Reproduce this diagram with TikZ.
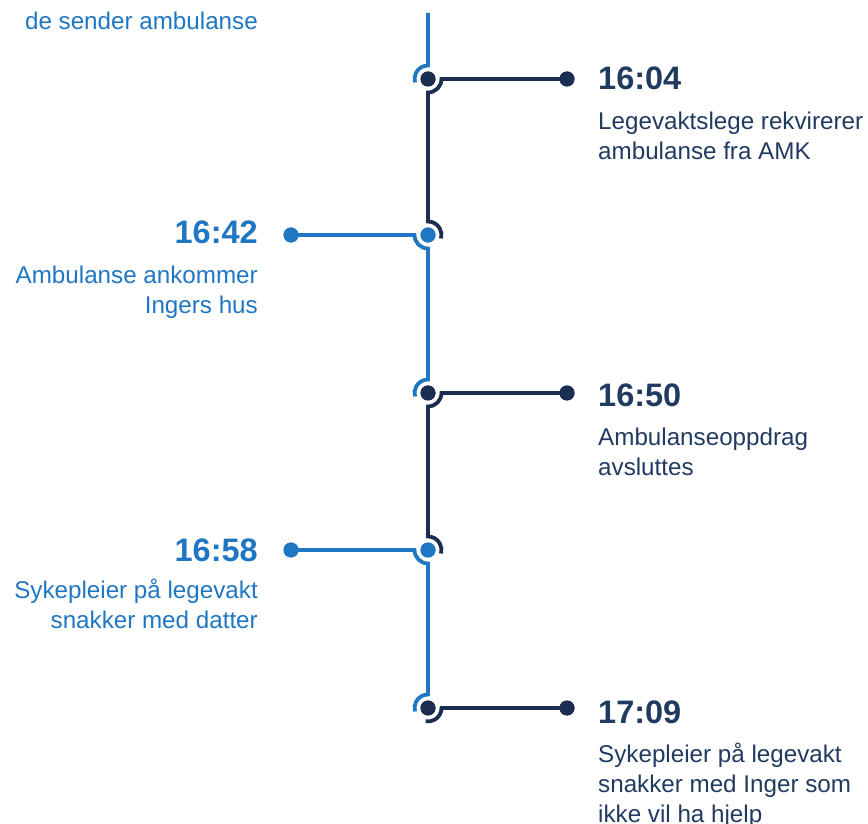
\documentclass[tikz,border=0pt]{standalone}
\usepackage{fontspec}
\setmainfont{Liberation Sans}
\definecolor{tblue}{HTML}{1F76C2}
\definecolor{tnavy}{HTML}{1B2D50}
\definecolor{tnavytext}{HTML}{213A60}
\tikzset{
  lineb/.style={line width=3.8pt, draw=tblue},
  linen/.style={line width=3.8pt, draw=tnavy},
  hub/.style={circle, inner sep=0pt, minimum size=15pt, fill=#1},
  tipdot/.style={circle, inner sep=0pt, minimum size=15pt, fill=#1},
  timefont/.style={inner sep=0pt, font=\fontsize{32.5}{36}\selectfont\bfseries},
  descfont/.style={inner sep=0pt, font=\fontsize{24.2}{30}\selectfont},
  timeR/.style={timefont, anchor=base west, text=tnavytext},
  timeL/.style={timefont, anchor=base east, text=tblue},
  descR/.style={descfont, anchor=base west, text=tnavytext},
  descL/.style={descfont, anchor=base east, text=tblue},
}
\newcommand{\rowsL}[1]{\renewcommand{\arraystretch}{1}\begin{tabular}[t]{@{}r@{}}#1\end{tabular}}
\newcommand{\rowsR}[1]{\renewcommand{\arraystretch}{1}\begin{tabular}[t]{@{}l@{}}#1\end{tabular}}
\begin{document}
\begin{tikzpicture}[x=1pt,y=1pt]
\useasboundingbox (0,0) rectangle (868,823);
% spine hubs (y = 823 - image y)
\coordinate (top) at (428,810);
\node[hub=tnavy] (h1) at (428,744) {};
\node[hub=tblue] (h2) at (428,588) {};
\node[hub=tnavy] (h3) at (428,430) {};
\node[hub=tblue] (h4) at (428,273) {};
\node[hub=tnavy] (h5) at (428,115) {};
% end dots
\node[tipdot=tnavy] (t1) at (567,744) {};
\node[tipdot=tblue] (t2) at (291,588) {};
\node[tipdot=tnavy] (t3) at (567,430) {};
\node[tipdot=tblue] (t4) at (291,273) {};
\node[tipdot=tnavy] (t5) at (567,115) {};
% connectors
\draw[lineb] (top) -- ([yshift=13.5pt]h1.center) arc[start angle=90, end angle=195, radius=13.5pt];
\draw[linen] (t1.center) -- ([xshift=13.5pt]h1.center) arc[start angle=0, end angle=-90, radius=13.5pt]
   -- ([yshift=13.5pt]h2.center) arc[start angle=90, end angle=-15, radius=13.5pt];
\draw[lineb] (t2.center) -- ([xshift=-13.5pt]h2.center) arc[start angle=180, end angle=270, radius=13.5pt]
   -- ([yshift=13.5pt]h3.center) arc[start angle=90, end angle=195, radius=13.5pt];
\draw[linen] (t3.center) -- ([xshift=13.5pt]h3.center) arc[start angle=0, end angle=-90, radius=13.5pt]
   -- ([yshift=13.5pt]h4.center) arc[start angle=90, end angle=-15, radius=13.5pt];
\draw[lineb] (t4.center) -- ([xshift=-13.5pt]h4.center) arc[start angle=180, end angle=270, radius=13.5pt]
   -- ([yshift=13.5pt]h5.center) arc[start angle=90, end angle=195, radius=13.5pt];
\draw[linen] (t5.center) -- ([xshift=13.5pt]h5.center) arc[start angle=0, end angle=-100, radius=13.5pt];
% redraw dots on top
\foreach \n/\c in {h1/tnavy,h2/tblue,h3/tnavy,h4/tblue,h5/tnavy,t1/tnavy,t2/tblue,t3/tnavy,t4/tblue,t5/tnavy}
  \fill[\c] (\n.center) circle[radius=7.5pt];
% texts
\node[descL] (d0) at (258,793) {de sender ambulanse};
\node[timeR] (k1) at (598,733) {16:04};
\node[descR] (d1) at (598,693) {\rowsR{Legevaktslege rekvirerer\\ambulanse fra AMK}};
\node[timeL] (k2) at (258,579) {16:42};
\node[descL] (d2) at (258,539) {\rowsL{Ambulanse ankommer\\Ingers hus}};
\node[timeR] (k3) at (598,416) {16:50};
\node[descR] (d3) at (598,377) {\rowsR{Ambulanseoppdrag\\avsluttes}};
\node[timeL] (k4) at (258,261) {16:58};
\node[descL] (d4) at (258,224) {\rowsL{Sykepleier på legevakt\\snakker med datter}};
\node[timeR] (k5) at (598,100) {17:09};
\node[descR] (d5) at (598,61) {\rowsR{Sykepleier på legevakt\\snakker med Inger som\\ikke vil ha hjelp}};
\end{tikzpicture}
\end{document}
